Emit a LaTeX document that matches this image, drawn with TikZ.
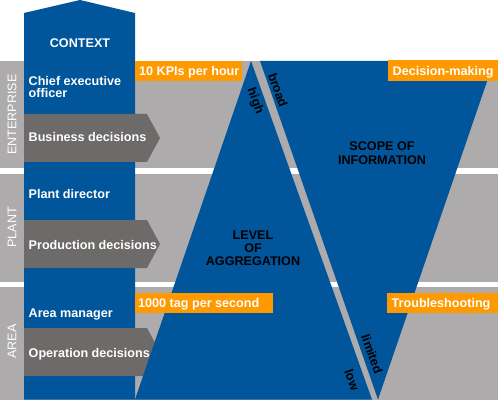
\documentclass[tikz,border=0pt]{standalone}
\usepackage{fontspec}
\setmainfont{Liberation Sans}
\definecolor{bblue}{HTML}{00559B}
\definecolor{bandgray}{HTML}{ADABAB}
\definecolor{arrgray}{HTML}{6D6B6A}
\definecolor{orng}{HTML}{FF9900}
\begin{document}
\begin{tikzpicture}[x=1pt,y=-1pt,
  lbl/.style={font=\fontsize{12.6}{12}\selectfont\bfseries, text=white, inner sep=0pt, anchor=base west, align=left},
  dark/.style={font=\fontsize{12.6}{13.3}\selectfont\bfseries, text=black, inner sep=0pt, align=center},
  side/.style={font=\fontsize{12.6}{13}\selectfont, text=white, inner sep=0pt, rotate=90},
  edgelbl/.style={font=\fontsize{12.6}{13}\selectfont\bfseries, text=black, inner sep=0pt, rotate=-70.3},
  bandfill/.style={fill=bandgray},
  bluefill/.style={fill=bblue},
  decarrow/.style={fill=arrgray},
  obox/.style={fill=orng}]
\useasboundingbox (0,0) rectangle (498,401);
\fill[white] (0,0) rectangle (498,401);
% bands
\path[bandfill] (0,61) rectangle (498,168.5);
\path[bandfill] (0,173.5) rectangle (498,281.5);
\path[bandfill] (0,287) rectangle (498,399.5);
% context column
\path[bluefill] (24,13) -- (80,0) -- (135,13) -- (135,399.5) -- (24,399.5) -- cycle;
% decision arrows
\path[decarrow] (24,114) -- (147,114) -- (160,138) -- (147,162) -- (24,162) -- cycle;
\path[decarrow] (24,220) -- (147,220) -- (160,244) -- (147,268) -- (24,268) -- cycle;
\path[decarrow] (24,328) -- (147,328) -- (160,352) -- (147,376) -- (24,376) -- cycle;
% triangles
\path[bluefill] (135,399.5) -- (251,61) -- (372,399.5) -- cycle;
\path[bluefill] (260,61) -- (494,61) -- (378,399.5) -- cycle;
% orange boxes
\path[obox] (135,61) rectangle (242,81);
\path[obox] (388,60) rectangle (498,81);
\path[obox] (135,293) rectangle (273,312.5);
\path[obox] (387,293) rectangle (498,313);
% column texts
\node[lbl, anchor=base] (ctx) at (80,47.7) {CONTEXT};
\node[lbl] (ceo) at (28.5,98) {Chief executive\\officer};
\node[lbl] (bus) at (28.5,142) {Business decisions};
\node[lbl] (pd) at (28.5,198.5) {Plant director};
\node[lbl] (prod) at (28.5,249) {Production decisions};
\node[lbl] (am) at (28.5,317) {Area manager};
\node[lbl] (op) at (28.5,357) {Operation decisions};
% side labels
\node[side] (ent) at (12,114.5) {ENTERPRISE};
\node[side] (plant) at (12,227.5) {PLANT};
\node[side] (area) at (12,341.5) {AREA};
% orange texts
\node[lbl] (kpi) at (139,76) {10 KPIs per hour};
\node[lbl] (dm) at (392.5,75.5) {Decision-making};
\node[lbl] (tag) at (138,307.7) {1000 tag per second};
\node[lbl] (ts) at (391.5,307) {Troubleshooting};
% shape texts
\node[dark, anchor=base] (lvl) at (253,265.7) {LEVEL\\OF\\AGGREGATION};
\node[dark, anchor=base] (scope) at (382,164.3) {SCOPE OF\\INFORMATION};
% edge labels
\node[edgelbl] (high) at (255,101) {high};
\node[edgelbl] (broad) at (278,90) {broad};
\node[edgelbl] (lim) at (372,354) {limited};
\node[edgelbl] (low) at (352,380) {low};
\end{tikzpicture}
\end{document}
